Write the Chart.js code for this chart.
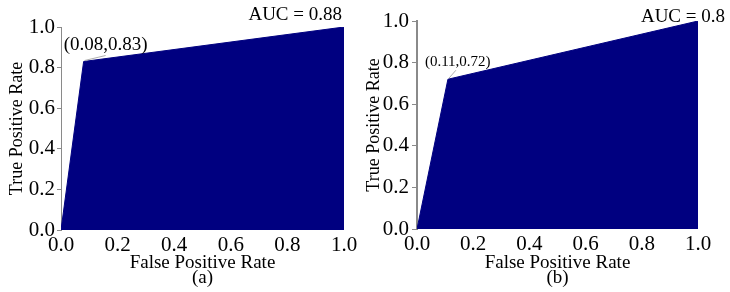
<!DOCTYPE html>
<html>
<head>
<meta charset="utf-8">
<script src="https://cdn.jsdelivr.net/npm/chart.js@4"></script>
<style>
body{margin:0;background:#fff;width:730px;height:292px;position:relative;overflow:hidden}
canvas{position:absolute;top:0}
#roc-a{left:0}
#roc-b{left:365px}
</style>
</head>
<body>
<canvas id="roc-a" width="365" height="292"></canvas>
<canvas id="roc-b" width="365" height="292"></canvas>
<script>
// roc points (fpr, tpr)
const fprA=[0,0.08,1];
const tprA=[0,0.83,1];
const aucA='0.88';
const kneeA='(0.08,0.83)';
const fprB=[0,0.11,1];
const tprB=[0,0.72,1];
const aucB='0.8';
const kneeB='(0.11,0.72)';
const subA='(a)';
const subB='(b)';
const diagX=[0,1];
const diagY=[0,1];

const SERIF='"Liberation Serif","Times New Roman",serif';

// AUC text + knee label with its little leader line
const rocText={
  id:'rocText',
  afterDraw(chart,args,o){
    const ctx=chart.ctx;
    const xs=chart.scales.x, ys=chart.scales.y;
    const px=xs.getPixelForValue(o.fpr[1]);
    const py=ys.getPixelForValue(o.tpr[1]);
    ctx.save();
    ctx.fillStyle='#000';
    ctx.textBaseline='middle';
    ctx.font='19px '+SERIF;
    ctx.textAlign='right';
    ctx.fillText('AUC = '+o.auc, chart.chartArea.right+o.aucDx, o.aucY);
    ctx.font=o.kneeSize+'px '+SERIF;
    ctx.textAlign='left';
    ctx.fillText(o.knee, px+o.kneeDx, py+o.kneeDy);
    ctx.strokeStyle='#9a9a9a';
    ctx.lineWidth=0.8;
    ctx.beginPath();
    ctx.moveTo(px+1,py-1);
    ctx.lineTo(px+o.lead[0],py+o.lead[1]);
    ctx.stroke();
    ctx.restore();
  }
};

function makeRoc(id,fpr,tpr,auc,knee,sub,st){
  const pts=fpr.map((x,i)=>({x:x,y:tpr[i]}));
  const diag=diagX.map((x,i)=>({x:x,y:diagY[i]}));
  return new Chart(document.getElementById(id),{
    type:'scatter',
    data:{
      datasets:[{
        data:pts,
        showLine:true,
        fill:'origin',
        backgroundColor:'#000080',
        borderColor:'#000080',
        borderWidth:1,
        pointRadius:0,
        tension:0
      },{
        data:diag,
        showLine:true,
        fill:false,
        borderColor:'rgba(40,40,150,0.3)',
        borderWidth:1,
        borderDash:[2,3],
        pointRadius:0
      }]
    },
    plugins:[rocText],
    options:{
      responsive:false,
      animation:false,
      layout:{padding:st.pad},
      plugins:{
        legend:{display:false},
        tooltip:{enabled:false},
        rocText:{fpr:fpr,tpr:tpr,auc:auc,knee:knee,aucDx:st.aucDx,aucY:st.aucY,
          kneeSize:st.kneeSize,kneeDx:st.kneeDx,kneeDy:st.kneeDy,lead:st.lead}
      },
      scales:{
        x:{
          type:'linear',min:0,max:1,
          grid:{display:false,drawTicks:false},
          border:{display:false},
          ticks:{stepSize:0.2,color:'#000',font:{family:SERIF,size:21},padding:3,maxRotation:0,
            callback:v=>v.toFixed(1)},
          title:{display:true,text:['False Positive Rate',sub],color:'#000',
            font:{family:SERIF,size:19,lineHeight:0.8},padding:{top:0,bottom:6}},
          afterFit(s){s.height=st.xh;}
        },
        y:{
          type:'linear',min:0,max:1,
          grid:{drawOnChartArea:false,drawTicks:true,tickLength:st.tickLen,color:'#8a8a8a'},
          border:{color:'#8a8a8a',width:st.axisW},
          ticks:{stepSize:st.yStep,color:'#000',font:{family:SERIF,size:21},padding:st.tickPad,
            callback:v=>(Math.round(v*10)%2===0?v.toFixed(1):'')},
          title:{display:true,text:'True Positive Rate',color:'#000',
            font:{family:SERIF,size:18,lineHeight:1},padding:{top:st.yTitlePad,bottom:0}},
          afterFit(s){s.width=st.yw;}
        }
      }
    }
  });
}

makeRoc('roc-a',fprA,tprA,aucA,kneeA,subA,{
  pad:{left:0,right:21,top:27,bottom:0},xh:62,yw:61,yStep:0.1,tickLen:4,tickPad:2,axisW:1,yTitlePad:8,
  aucDx:-2,aucY:15,kneeSize:19,kneeDx:-20,kneeDy:-16,lead:[22,-6]
});
makeRoc('roc-b',fprB,tprB,aucB,kneeB,subB,{
  pad:{left:0,right:32,top:21,bottom:0},xh:63,yw:52,yStep:0.2,tickLen:5,tickPad:3,axisW:2,yTitlePad:0,
  aucDx:27,aucY:17,kneeSize:15,kneeDx:-23,kneeDy:-17,lead:[8,-9]
});
</script>
</body>
</html>
